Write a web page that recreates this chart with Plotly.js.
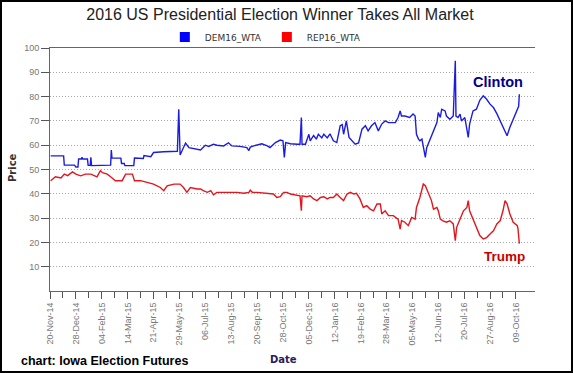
<!DOCTYPE html>
<html>
<head>
<meta charset="utf-8">
<script src="https://cdn.plot.ly/plotly-3.0.1.min.js"></script>
<style>
  html, body { margin: 0; padding: 0; background: #fff; }
  #wrap { position: relative; width: 573px; height: 373px; }
  #chart { width: 573px; height: 373px; }
  #frame { position: absolute; left: 0; top: 0; width: 573px; height: 373px; box-sizing: border-box; border: 2px solid #000; pointer-events: none; }
</style>
</head>
<body>
<div id="wrap"><div id="chart"></div><div id="frame"></div></div>
<script>
// ---- data (days counted from the first trading date, 20-Nov-2014) ----
const startDate = '2014-11-20';
const endDate = '2016-11-01';

const demDays = [1,20,21,36,38,41,42,46,47,48,55,56,59,60,61,74,89,90,91,104,105,109,110,123,124,137,138,148,152,167,187,189,191,199,204,221,228,233,240,245,255,262,267,279,289,292,294,299,306,311,319,323,331,338,342,344,346,353,363,367,369,370,375,380,382,387,391,394,399,402,407,411,416,421,426,429,431,435,439,444,448,453,458,463,467,472,477,482,487,492,497,502,507,511,514,516,521,528,533,536,538,541,543,546,548,551,553,558,563,568,570,573,575,580,582,587,592,595,596,599,602,604,609,612,614,616,621,626,631,636,641,646,651,656,661,665,671,675,680,686,688,689];
const demPrice = [55.6,55.6,51.8,51.8,51,51,54.3,54.3,55,54.3,54.3,51.7,51.7,55,51.6,51.6,51.8,58,54.7,54.7,52.5,52.5,51.6,51.6,54.7,54.5,55.7,55.3,57,57.3,57.5,74.8,56,60.9,59,58,60,59.5,60.4,60,59.7,61,59.7,59.5,59,57.8,59.2,59.7,60.4,60.6,59.7,59,61.1,62.1,61.8,55,61.1,60.6,60.4,60.4,71.4,60.4,60.4,64.5,61.8,64,62.5,64.5,63,64.5,63,64.7,61.8,61.1,68,68.5,64.5,70,63.2,61.8,60.4,60.9,66.6,68,65.9,68,69.3,65.9,68.7,70,69.3,69.3,69.3,71.4,74.1,72,72,71.4,72.8,72,64.5,62.5,61.8,62.5,59.8,55,59,62.5,65.9,69.3,73.4,71.4,74.8,74.1,72,70.7,72,94.7,72,71.4,72.8,70,71.4,67.3,63.2,68.7,74.1,74.8,78.5,80.3,78.9,76.9,75.5,73,70,67.3,63.9,67.3,70.7,74.8,76,81];

const repDays = [1,8,16,21,26,33,38,45,52,60,69,74,77,84,89,96,106,111,121,124,133,143,152,162,167,172,182,191,196,201,206,216,221,225,231,236,240,245,255,265,275,284,292,294,297,304,319,328,333,338,343,348,353,363,367,369,370,377,382,387,392,397,402,407,411,416,421,426,431,436,441,446,450,455,460,465,470,475,480,485,487,492,497,504,511,514,516,521,526,531,536,538,543,548,551,553,555,560,563,568,570,573,577,582,587,592,595,597,602,607,612,614,616,621,626,631,636,641,646,651,656,661,665,668,671,675,680,686,687,689];
const repPrice = [45.4,47,46.5,48.1,47.5,49,48.1,47.4,48.1,48.1,47,49.5,48.7,48.1,47,45.4,45.4,48.1,48.1,45.4,45.4,44.6,44,42.6,41.3,43.3,44,44,42.6,40.6,42.6,42,42,41.3,40.6,41.3,39.6,40.6,40.6,40.9,40.6,40.2,40.6,41.5,40.6,40.6,40.2,39.9,38.5,38.8,40.6,40.6,39.9,39.6,39.2,33,39.2,38.8,39.2,37.9,37.2,38.5,38.8,37.9,38.5,38.5,39.9,38.5,37.2,39.9,40.6,39.9,40.2,37.9,34.4,35.1,33.7,33,35.8,35.8,31.7,33,31,31,29.6,25.5,29,28.3,26.9,30.3,29.6,34.4,38.5,44,43.3,42,40.6,37.2,33.7,34.4,33,29.6,28.9,28.3,28.9,27.6,20.7,26.2,29.6,33,34.4,37.2,33,29.6,26.2,22.8,21.4,22,23.5,24.8,27.6,29,33,37.2,35.9,31.8,28.3,26.9,25.7,19.5];

const tickLabels = ['20-Nov-14','28-Dec-14','04-Feb-15','14-Mar-15','21-Apr-15','29-May-15','06-Jul-15','13-Aug-15','20-Sep-15','28-Oct-15','05-Dec-15','12-Jan-16','19-Feb-16','28-Mar-16','05-May-16','12-Jun-16','20-Jul-16','27-Aug-16','09-Oct-16'];
const tickStepDays = 38;
const priceTicks = [10,20,30,40,50,60,70,80,90,100];

// ---- helpers ----
const DAY = 864e5;
const t0 = Date.parse(startDate + 'T00:00:00Z');
const toDate = d => new Date(t0 + d * DAY).toISOString().slice(0, 10);
const tickVals = tickLabels.map((_, i) => toDate(i * tickStepDays));
const minorVals = tickLabels.slice(0, -1).map((_, i) => toDate(i * tickStepDays + tickStepDays / 2));

const axisFont = {family: 'Liberation Sans, Arial, sans-serif', size: 9, color: '#777'};

const traces = [
  {x: demDays.map(toDate), y: demPrice, type: 'scatter', mode: 'lines', name: 'DEM16_WTA',
   line: {color: '#1c1ce0', width: 1.4}, showlegend: false},
  {x: repDays.map(toDate), y: repPrice, type: 'scatter', mode: 'lines', name: 'REP16_WTA',
   line: {color: '#e3161e', width: 1.4}, showlegend: false},
  {x: [null], y: [null], type: 'scatter', mode: 'markers', name: 'DEM16_WTA',
   marker: {symbol: 'square', size: 10, color: '#0000ff'}, showlegend: true},
  {x: [null], y: [null], type: 'scatter', mode: 'markers', name: 'REP16_WTA',
   marker: {symbol: 'square', size: 10, color: '#ff0000'}, showlegend: true}
];

const yCommon = {
  range: [0, 100], tickmode: 'array', tickvals: priceTicks, ticktext: priceTicks.map(String),
  ticks: 'outside', ticklen: 8, tickcolor: '#555', tickfont: axisFont,
  showline: true, linecolor: '#666', linewidth: 1, zeroline: false, fixedrange: true
};

const annFont = (size, color, fam) => ({family: fam || 'Liberation Sans, Arial, sans-serif', size: size, color: color});

const layout = {
  width: 573, height: 373,
  margin: {l: 50, r: 38, t: 48, b: 82},
  paper_bgcolor: '#fff', plot_bgcolor: '#fff',
  title: {text: '2016 US Presidential Election Winner Takes All Market',
          font: {family: 'Liberation Sans, Arial, sans-serif', size: 16, color: '#222'},
          x: 280 / 573, xref: 'container', xanchor: 'center',
          y: 1 - 14 / 373, yref: 'container', yanchor: 'middle'},
  showlegend: true,
  legend: {orientation: 'h', x: 0.445, xanchor: 'center', y: 1.045, yanchor: 'middle',
           font: {family: 'DejaVu Sans, Verdana, sans-serif', size: 9, color: '#333'},
           bgcolor: 'rgba(0,0,0,0)', itemwidth: 30},
  xaxis: {
    type: 'date', range: [startDate, endDate],
    tickmode: 'array', tickvals: tickVals, ticktext: tickLabels, tickangle: -90,
    ticks: 'outside', ticklen: 7, tickcolor: '#555', tickfont: axisFont,
    minor: {tickmode: 'array', tickvals: minorVals, ticks: 'outside', ticklen: 6, tickcolor: '#555', showgrid: false},
    showline: true, linecolor: '#666', linewidth: 1, mirror: true,
    showgrid: false, zeroline: false, fixedrange: true
  },
  yaxis: Object.assign({}, yCommon, {showgrid: true, gridcolor: '#a8a8a8', griddash: '1px,2px', gridwidth: 1}),
  yaxis2: Object.assign({}, yCommon, {overlaying: 'y', side: 'right', showgrid: false}),
  annotations: [
    {text: '<b>Price</b>', xref: 'paper', yref: 'paper', x: (12 - 50) / 485, y: (291 - 168) / 243,
     xanchor: 'center', yanchor: 'middle', textangle: -90, showarrow: false,
     font: annFont(10, '#333', 'DejaVu Sans, Verdana, sans-serif')},
    {text: '<b>Date</b>', xref: 'paper', yref: 'paper', x: (283 - 50) / 485, y: (291 - 359) / 243,
     xanchor: 'center', yanchor: 'middle', showarrow: false,
     font: annFont(10, '#2a1a5e', 'DejaVu Sans, Verdana, sans-serif')},
    {text: '<b>chart: Iowa Election Futures</b>', xref: 'paper', yref: 'paper', x: (19 - 50) / 485, xanchor: 'left',
     y: (291 - 361) / 243, yanchor: 'middle', showarrow: false, font: annFont(12.5, '#000')},
    {text: '<b>Clinton</b>', xref: 'paper', yref: 'paper', x: (498 - 50) / 485, y: (291 - 82) / 243,
     xanchor: 'center', yanchor: 'middle', showarrow: false, font: annFont(14.5, '#00008b')},
    {text: '<b>Trump</b>', xref: 'paper', yref: 'paper', x: (504 - 50) / 485, y: (291 - 256) / 243,
     xanchor: 'center', yanchor: 'middle', showarrow: false, font: annFont(13.5, '#c80000')}
  ]
};

Plotly.newPlot('chart', traces, layout, {staticPlot: true, displayModeBar: false});
</script>
</body>
</html>
